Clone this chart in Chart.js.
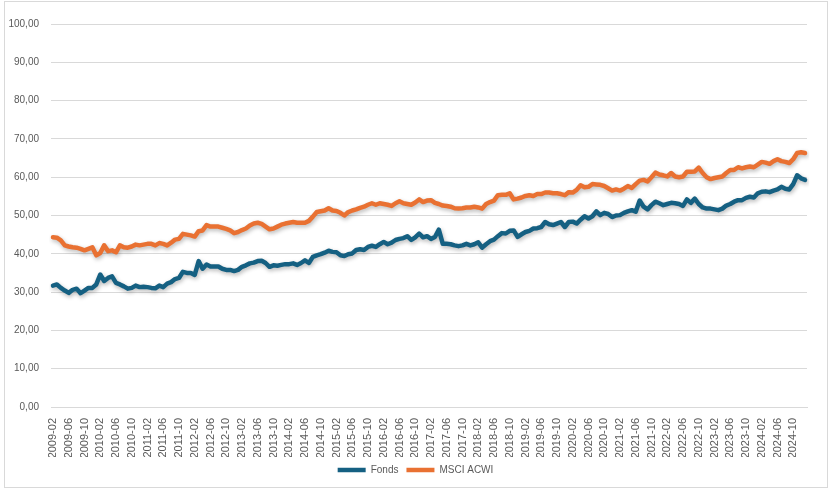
<!DOCTYPE html>
<html>
<head>
<meta charset="utf-8">
<script src="https://cdn.jsdelivr.net/npm/chart.js@4/dist/chart.umd.min.js"></script>
<style>
  html, body { margin: 0; padding: 0; background: #fff; }
  #wrap { width: 831px; height: 489px; }
</style>
</head>
<body>
<div id="wrap"><canvas id="chart" width="831" height="489"></canvas></div>
<script>
// monthly categories 2009-02 .. 2025-01
const startYear = 2009;
const startMonth = 2;
const monthCount = 192;
const categories = [];
for (let i = 0; i < monthCount; i++) {
  const m = startMonth - 1 + i;
  const y = startYear + Math.floor(m / 12);
  const mm = (m % 12) + 1;
  categories.push(y + '-' + String(mm).padStart(2, '0'));
}

const seriesNames = ['Fonds', 'MSCI ACWI'];

const fonds = [
  31.7, 32.0, 31.1, 30.4, 29.8, 30.6, 30.9, 29.7, 30.4, 31.1, 31.1, 32.0,
  34.6, 32.9, 33.7, 34.1, 32.4, 32.0, 31.5, 30.9, 31.1, 31.7, 31.3, 31.4,
  31.3, 31.1, 31.0, 31.7, 31.3, 32.2, 32.6, 33.4, 33.7, 35.3, 35.0, 35.0,
  34.5, 38.1, 36.1, 37.2, 36.7, 36.7, 36.7, 36.1, 35.8, 35.8, 35.5, 35.8,
  36.6, 37.0, 37.5, 37.7, 38.1, 38.2, 37.6, 36.6, 37.0, 36.9, 37.1, 37.3,
  37.3, 37.5, 37.1, 37.6, 38.3, 37.6, 39.2, 39.6, 39.9, 40.3, 40.8, 40.5,
  40.4, 39.6, 39.4, 39.9, 40.1, 41.0, 41.2, 41.0, 41.8, 42.1, 41.8, 42.5,
  43.1, 42.5, 42.9, 43.6, 43.9, 44.1, 44.6, 43.6, 44.3, 45.3, 44.3, 44.6,
  43.9, 44.4, 46.3, 42.6, 42.6, 42.5, 42.2, 42.0, 42.2, 42.6, 42.2, 42.5,
  43.0, 41.6, 42.5, 43.3, 43.7, 44.6, 45.4, 45.3, 46.0, 46.1, 44.4, 45.1,
  45.7, 46.0, 46.6, 46.7, 47.0, 48.3, 47.7, 47.5, 47.9, 48.3, 47.0, 48.3,
  48.4, 47.9, 48.9, 49.8, 49.2, 49.8, 51.1, 50.1, 50.7, 50.4, 49.6, 50.0,
  50.1, 50.7, 51.1, 51.4, 51.0, 53.9, 52.3, 51.6, 52.7, 53.6, 53.2, 52.7,
  53.0, 53.3, 53.2, 53.0, 52.5, 54.2, 53.3, 54.4, 53.0, 52.1, 51.8, 51.8,
  51.6, 51.4, 51.8, 52.6, 53.0, 53.6, 54.0, 54.0, 54.6, 54.9, 54.7, 55.8,
  56.2, 56.3, 56.1, 56.5, 56.8, 57.5, 57.0, 56.8, 58.2, 60.5, 59.7, 59.3
];

const msciAcwi = [
  44.3, 44.2, 43.5, 42.2, 41.9, 41.7, 41.6, 41.3, 40.9, 41.3, 41.7, 39.6,
  40.2, 42.2, 40.7, 40.9, 40.4, 42.2, 41.7, 41.6, 41.9, 42.4, 42.2, 42.4,
  42.6, 42.6, 42.2, 42.8, 42.6, 42.2, 42.9, 43.7, 43.9, 45.2, 45.0, 44.8,
  44.5, 45.9, 46.1, 47.5, 47.1, 47.1, 47.1, 46.8, 46.5, 46.1, 45.4, 45.7,
  46.2, 46.6, 47.4, 47.9, 48.1, 47.8, 47.1, 46.4, 46.6, 47.1, 47.6, 47.9,
  48.1, 48.3, 48.1, 48.1, 48.1, 48.6, 49.7, 50.9, 51.1, 51.3, 51.9, 51.3,
  51.2, 50.7, 50.0, 50.9, 51.3, 51.6, 52.0, 52.3, 52.8, 53.2, 52.8, 53.2,
  53.0, 52.8, 52.5, 53.2, 53.7, 53.2, 53.0, 52.8, 53.4, 54.2, 53.5, 53.9,
  54.0, 53.3, 53.0, 52.6, 52.5, 52.3, 51.9, 51.8, 51.9, 52.1, 52.1, 52.3,
  52.1, 51.8, 53.0, 53.5, 53.9, 55.3, 55.4, 55.4, 55.8, 54.2, 54.4, 54.7,
  55.1, 55.3, 55.1, 55.6, 55.6, 56.0, 56.0, 55.8, 55.8, 55.6, 55.3, 56.1,
  56.0, 56.7, 57.9, 57.4, 57.5, 58.2, 58.1, 58.0, 57.7, 57.1, 56.5, 56.8,
  56.5, 57.0, 57.7, 57.2, 58.2, 59.1, 59.3, 58.9, 60.0, 61.2, 60.7, 60.5,
  60.2, 61.1, 60.2, 60.0, 60.2, 61.4, 61.4, 61.5, 62.5, 61.1, 60.0, 59.5,
  59.8, 60.0, 60.2, 61.1, 61.9, 61.9, 62.6, 62.3, 62.6, 62.8, 62.6, 63.3,
  64.0, 63.8, 63.5, 64.2, 64.7, 64.2, 64.0, 63.7, 64.7, 66.3, 66.5, 66.3
];

const yMin = 0;
const yMax = 100;
const yStep = 10;
const labelEvery = 4;

const textColor = '#595959';
const gridColor = '#D9D9D9';

// soft drop shadow under the lines, like the spreadsheet style
const shadowPlugin = {
  id: 'lineShadow',
  beforeDatasetsDraw(chart) {
    const ctx = chart.ctx;
    ctx.save();
    ctx.shadowColor = 'rgba(0,0,0,0.28)';
    ctx.shadowBlur = 4;
    ctx.shadowOffsetX = 1;
    ctx.shadowOffsetY = 2;
  },
  afterDatasetsDraw(chart) {
    chart.ctx.restore();
  }
};

const borderPlugin = {
  id: 'outerBorder',
  afterDraw(chart) {
    const ctx = chart.ctx;
    ctx.save();
    ctx.strokeStyle = gridColor;
    ctx.lineWidth = 1;
    ctx.strokeRect(4.5, 1.5, 823, 486);
    ctx.restore();
  }
};

Chart.defaults.font.family = '"Liberation Sans", Arial, sans-serif';
Chart.defaults.font.size = 10;
Chart.defaults.color = textColor;

new Chart(document.getElementById('chart'), {
  type: 'line',
  data: {
    labels: categories,
    datasets: [
      {
        label: seriesNames[0],
        data: fonds,
        borderColor: '#156082',
        backgroundColor: '#156082',
        borderWidth: 4.5,
        borderCapStyle: 'round',
        borderJoinStyle: 'round',
        pointRadius: 0,
        tension: 0
      },
      {
        label: seriesNames[1],
        data: msciAcwi,
        borderColor: '#E97132',
        backgroundColor: '#E97132',
        borderWidth: 4.5,
        borderCapStyle: 'round',
        borderJoinStyle: 'round',
        pointRadius: 0,
        tension: 0
      }
    ]
  },
  options: {
    responsive: false,
    animation: false,
    layout: { padding: { top: 24, right: 0, bottom: 4, left: 0 } },
    plugins: {
      legend: {
        position: 'bottom',
        labels: {
          usePointStyle: true,
          pointStyle: 'line',
          pointStyleWidth: 28,
          boxHeight: 10,
          padding: 8,
          color: textColor,
          font: { size: 10 }
        }
      },
      tooltip: { enabled: false }
    },
    scales: {
      x: {
        offset: true,
        grid: { display: false, drawTicks: false },
        border: { display: true, color: gridColor },
        ticks: {
          autoSkip: false,
          minRotation: 90,
          maxRotation: 90,
          padding: 11,
          color: textColor,
          font: { size: 11 },
          callback: function (value, index) {
            return index % labelEvery === 0 ? categories[index] : '';
          }
        },
        afterFit(scale) {
          scale.height = 50;
          scale.paddingRight = 24;
        }
      },
      y: {
        min: yMin,
        max: yMax,
        grid: { color: gridColor, drawTicks: false },
        border: { display: false },
        ticks: {
          stepSize: yStep,
          padding: 12,
          color: textColor,
          callback: v => v.toFixed(2).replace('.', ',')
        },
        afterFit(scale) { scale.width = 51; }
      }
    }
  },
  plugins: [shadowPlugin, borderPlugin]
});
</script>
</body>
</html>
